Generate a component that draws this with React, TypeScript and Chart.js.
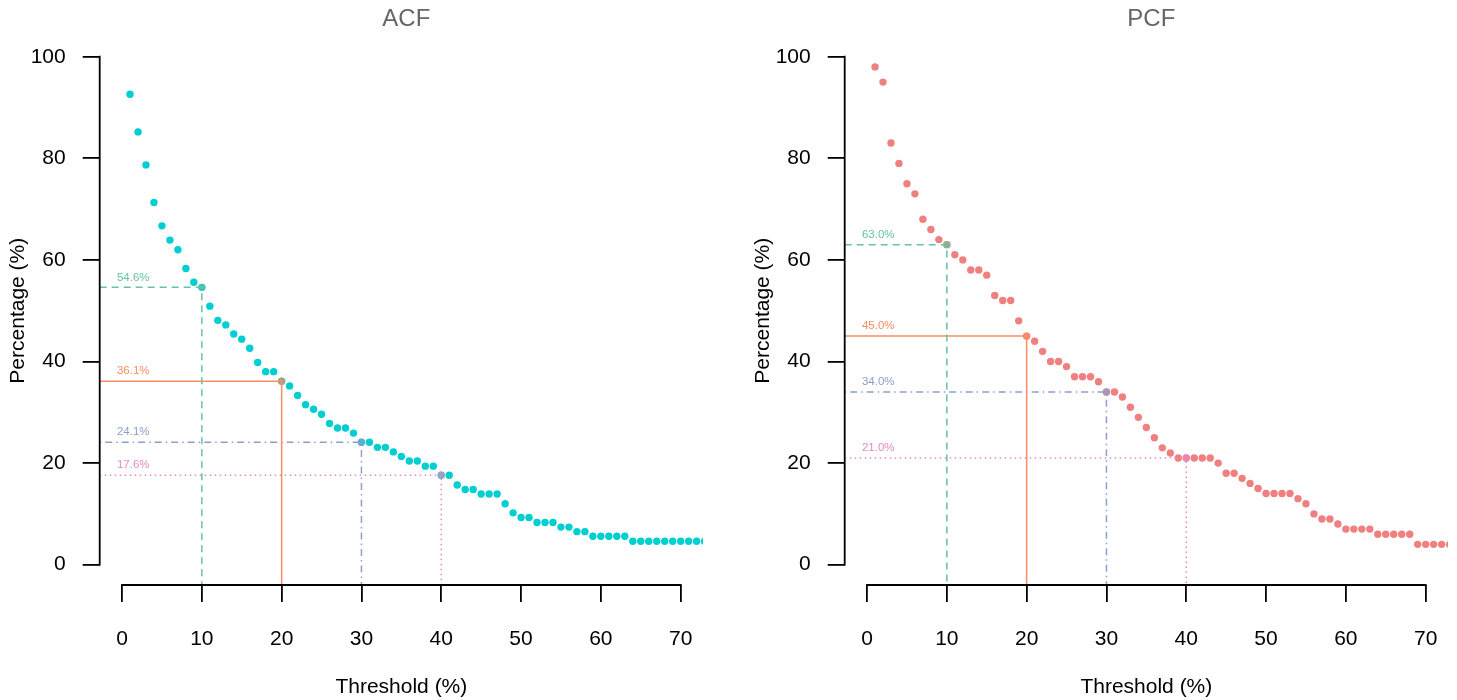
import React, { useEffect, useRef } from "react";
import { Chart, registerables } from "chart.js";

Chart.register(...registerables);

// ---------- data ----------
const THRESHOLDS = [
  1, 2, 3, 4, 5, 6, 7, 8, 9, 10, 11, 12, 13, 14, 15, 16, 17, 18, 19, 20,
  21, 22, 23, 24, 25, 26, 27, 28, 29, 30, 31, 32, 33, 34, 35, 36, 37, 38, 39, 40,
  41, 42, 43, 44, 45, 46, 47, 48, 49, 50, 51, 52, 53, 54, 55, 56, 57, 58, 59, 60,
  61, 62, 63, 64, 65, 66, 67, 68, 69, 70, 71, 72, 73,
];

const ACF_VALUES = [
  92.6, 85.2, 78.7, 71.3, 66.7, 63.9, 62.0, 58.3, 55.6, 54.6,
  50.9, 48.1, 47.2, 45.4, 44.4, 42.6, 39.8, 38.0, 38.0, 36.1,
  35.2, 33.3, 31.5, 30.6, 29.6, 27.8, 26.9, 26.9, 25.9, 24.1,
  24.1, 23.1, 23.1, 22.2, 21.3, 20.4, 20.4, 19.4, 19.4, 17.6,
  17.6, 15.7, 14.8, 14.8, 13.9, 13.9, 13.9, 12.0, 10.2, 9.3,
  9.3, 8.3, 8.3, 8.3, 7.4, 7.4, 6.5, 6.5, 5.6, 5.6,
  5.6, 5.6, 5.6, 4.6, 4.6, 4.6, 4.6, 4.6, 4.6, 4.6,
  4.6, 4.6, 4.6,
];

const PCF_VALUES = [
  98, 95, 83, 79, 75, 73, 68, 66, 64, 63,
  61, 60, 58, 58, 57, 53, 52, 52, 48, 45,
  44, 42, 40, 40, 39, 37, 37, 37, 36, 34,
  34, 33, 31, 29, 27, 25, 23, 22, 21, 21,
  21, 21, 21, 20, 18, 18, 17, 16, 15, 14,
  14, 14, 14, 13, 12, 10, 9, 9, 8, 7,
  7, 7, 7, 6, 6, 6, 6, 6, 4, 4,
  4, 4, 4,
];

const X_TICKS = [0, 10, 20, 30, 40, 50, 60, 70];
const Y_TICKS = [0, 20, 40, 60, 80, 100];

const CUT_X = [10, 20, 30, 40];
const ACF_CUT_Y = [54.6, 36.1, 24.1, 17.6];
const PCF_CUT_Y = [63.0, 45.0, 34.0, 21.0];

// ---------- styles ----------
const FONT = "'Liberation Sans', Arial, Helvetica, sans-serif";
const CUT_COLORS = ["#66C2A5", "#FC8D62", "#8DA0CB", "#E78AC3"];
const CUT_DOT_COLORS = [
  "rgba(102,194,165,0.65)",
  "rgba(252,141,98,0.65)",
  "rgba(141,160,203,0.65)",
  "rgba(231,138,195,0.65)",
];
const CUT_DASHES: number[][] = [[7, 5], [], [1.5, 4, 7, 4], [1.5, 3.5]];
const X_MIN = -2.8;
const X_MAX = 72.8;
const Y_MIN = -4;
const Y_MAX = 104;
const AXIS_WIDTH = 1.8;

function makeDecorPlugin(title: string, cutY: number[]) {
  return {
    id: "decor_" + title,
    afterDraw(chart: any) {
      const { ctx, chartArea, scales } = chart;
      const xs = scales.x;
      const ys = scales.y;
      ctx.save();
      // axis lines (R style: only between the first and last ticks)
      ctx.strokeStyle = "#000";
      ctx.lineWidth = AXIS_WIDTH;
      ctx.lineCap = "square";
      ctx.beginPath();
      ctx.moveTo(xs.getPixelForValue(X_TICKS[0]), chartArea.bottom);
      ctx.lineTo(xs.getPixelForValue(X_TICKS[X_TICKS.length - 1]), chartArea.bottom);
      ctx.moveTo(chartArea.left, ys.getPixelForValue(Y_TICKS[0]));
      ctx.lineTo(chartArea.left, ys.getPixelForValue(Y_TICKS[Y_TICKS.length - 1]));
      ctx.stroke();
      // main title
      ctx.fillStyle = "#666";
      ctx.font = `24px ${FONT}`;
      ctx.textAlign = "center";
      ctx.textBaseline = "middle";
      ctx.fillText(title, (chartArea.left + chartArea.right) / 2 + 5, 19);
      // cut labels
      ctx.font = `11.5px ${FONT}`;
      cutY.forEach((v, i) => {
        ctx.fillStyle = CUT_COLORS[i];
        ctx.fillText(
          v.toFixed(1) + "%",
          xs.getPixelForValue(1.4),
          ys.getPixelForValue(v) - 10
        );
      });
      ctx.restore();
    },
  };
}

function buildChart(
  canvas: HTMLCanvasElement,
  title: string,
  values: number[],
  cutY: number[],
  pointColor: string
) {
  const points = THRESHOLDS.map((t, i) => ({ x: t, y: values[i] }));
  const cutSets = CUT_X.map((cx, i) => ({
    type: "line" as const,
    data: [
      { x: X_MIN, y: cutY[i] },
      { x: cx, y: cutY[i] },
      { x: cx, y: Y_MIN },
    ],
    showLine: true,
    borderColor: CUT_COLORS[i],
    borderWidth: 1.5,
    borderDash: CUT_DASHES[i],
    pointRadius: [0, 3.7, 0],
    pointBackgroundColor: CUT_DOT_COLORS[i],
    pointBorderWidth: 0,
    fill: false,
    tension: 0,
    order: 1,
    clip: 0,
  }));

  return new Chart(canvas, {
    type: "scatter",
    data: {
      datasets: [
        {
          data: points,
          pointRadius: 3.7,
          pointBackgroundColor: pointColor,
          pointBorderWidth: 0,
          showLine: false,
          order: 2,
          clip: 0,
        } as any,
        ...(cutSets as any[]),
      ],
    },
    options: {
      animation: false,
      responsive: false,
      maintainAspectRatio: false,
      events: [],
      layout: { padding: { top: 36.4, right: 43, bottom: 0, left: 0 } },
      plugins: {
        legend: { display: false },
        tooltip: { enabled: false },
        title: { display: false },
      },
      scales: {
        x: {
          type: "linear",
          min: X_MIN,
          max: X_MAX,
          afterBuildTicks: (s: any) => {
            s.ticks = X_TICKS.map((v) => ({ value: v }));
          },
          afterFit: (s: any) => {
            s.height = 115;
            s.paddingLeft = 0;
            s.paddingRight = 0;
          },
          border: { display: false },
          grid: {
            display: true,
            drawOnChartArea: false,
            drawTicks: true,
            tickLength: 17,
            color: "#000",
            lineWidth: AXIS_WIDTH,
          },
          ticks: {
            color: "#000",
            font: { size: 21, family: FONT },
            padding: 25,
            maxRotation: 0,
            autoSkip: false,
          },
          title: {
            display: true,
            text: "Threshold (%)",
            color: "#000",
            font: { size: 21, family: FONT },
            padding: { top: 0, bottom: 0 },
          },
        },
        y: {
          type: "linear",
          min: Y_MIN,
          max: Y_MAX,
          afterBuildTicks: (s: any) => {
            s.ticks = Y_TICKS.map((v) => ({ value: v }));
          },
          afterFit: (s: any) => {
            s.width = 99.7;
            s.paddingTop = 0;
            s.paddingBottom = 0;
          },
          border: { display: false },
          grid: {
            display: true,
            drawOnChartArea: false,
            drawTicks: true,
            tickLength: 17,
            color: "#000",
            lineWidth: AXIS_WIDTH,
          },
          ticks: {
            color: "#000",
            font: { size: 21, family: FONT },
            padding: 17,
            autoSkip: false,
          },
          title: {
            display: true,
            text: "Percentage (%)",
            color: "#000",
            font: { size: 21, family: FONT },
            padding: { top: 6, bottom: 0 },
          },
        },
      },
    } as any,
    plugins: [makeDecorPlugin(title, cutY)],
  });
}

export default function App() {
  const acfRef = useRef<HTMLCanvasElement | null>(null);
  const pcfRef = useRef<HTMLCanvasElement | null>(null);

  useEffect(() => {
    if (!acfRef.current || !pcfRef.current) return;
    const c1 = buildChart(acfRef.current, "ACF", ACF_VALUES, ACF_CUT_Y, "#00CED1");
    const c2 = buildChart(pcfRef.current, "PCF", PCF_VALUES, PCF_CUT_Y, "#F08080");
    return () => {
      c1.destroy();
      c2.destroy();
    };
  }, []);

  return (
    <div
      style={{
        position: "absolute",
        left: 0,
        top: 0,
        width: 1457,
        height: 700,
        overflow: "hidden",
        background: "#fff",
      }}
    >
      <canvas
        ref={acfRef}
        width={746}
        height={700}
        style={{ position: "absolute", left: 0, top: 0, width: 746, height: 700 }}
      />
      <canvas
        ref={pcfRef}
        width={746}
        height={700}
        style={{ position: "absolute", left: 745, top: 0, width: 746, height: 700 }}
      />
    </div>
  );
}
